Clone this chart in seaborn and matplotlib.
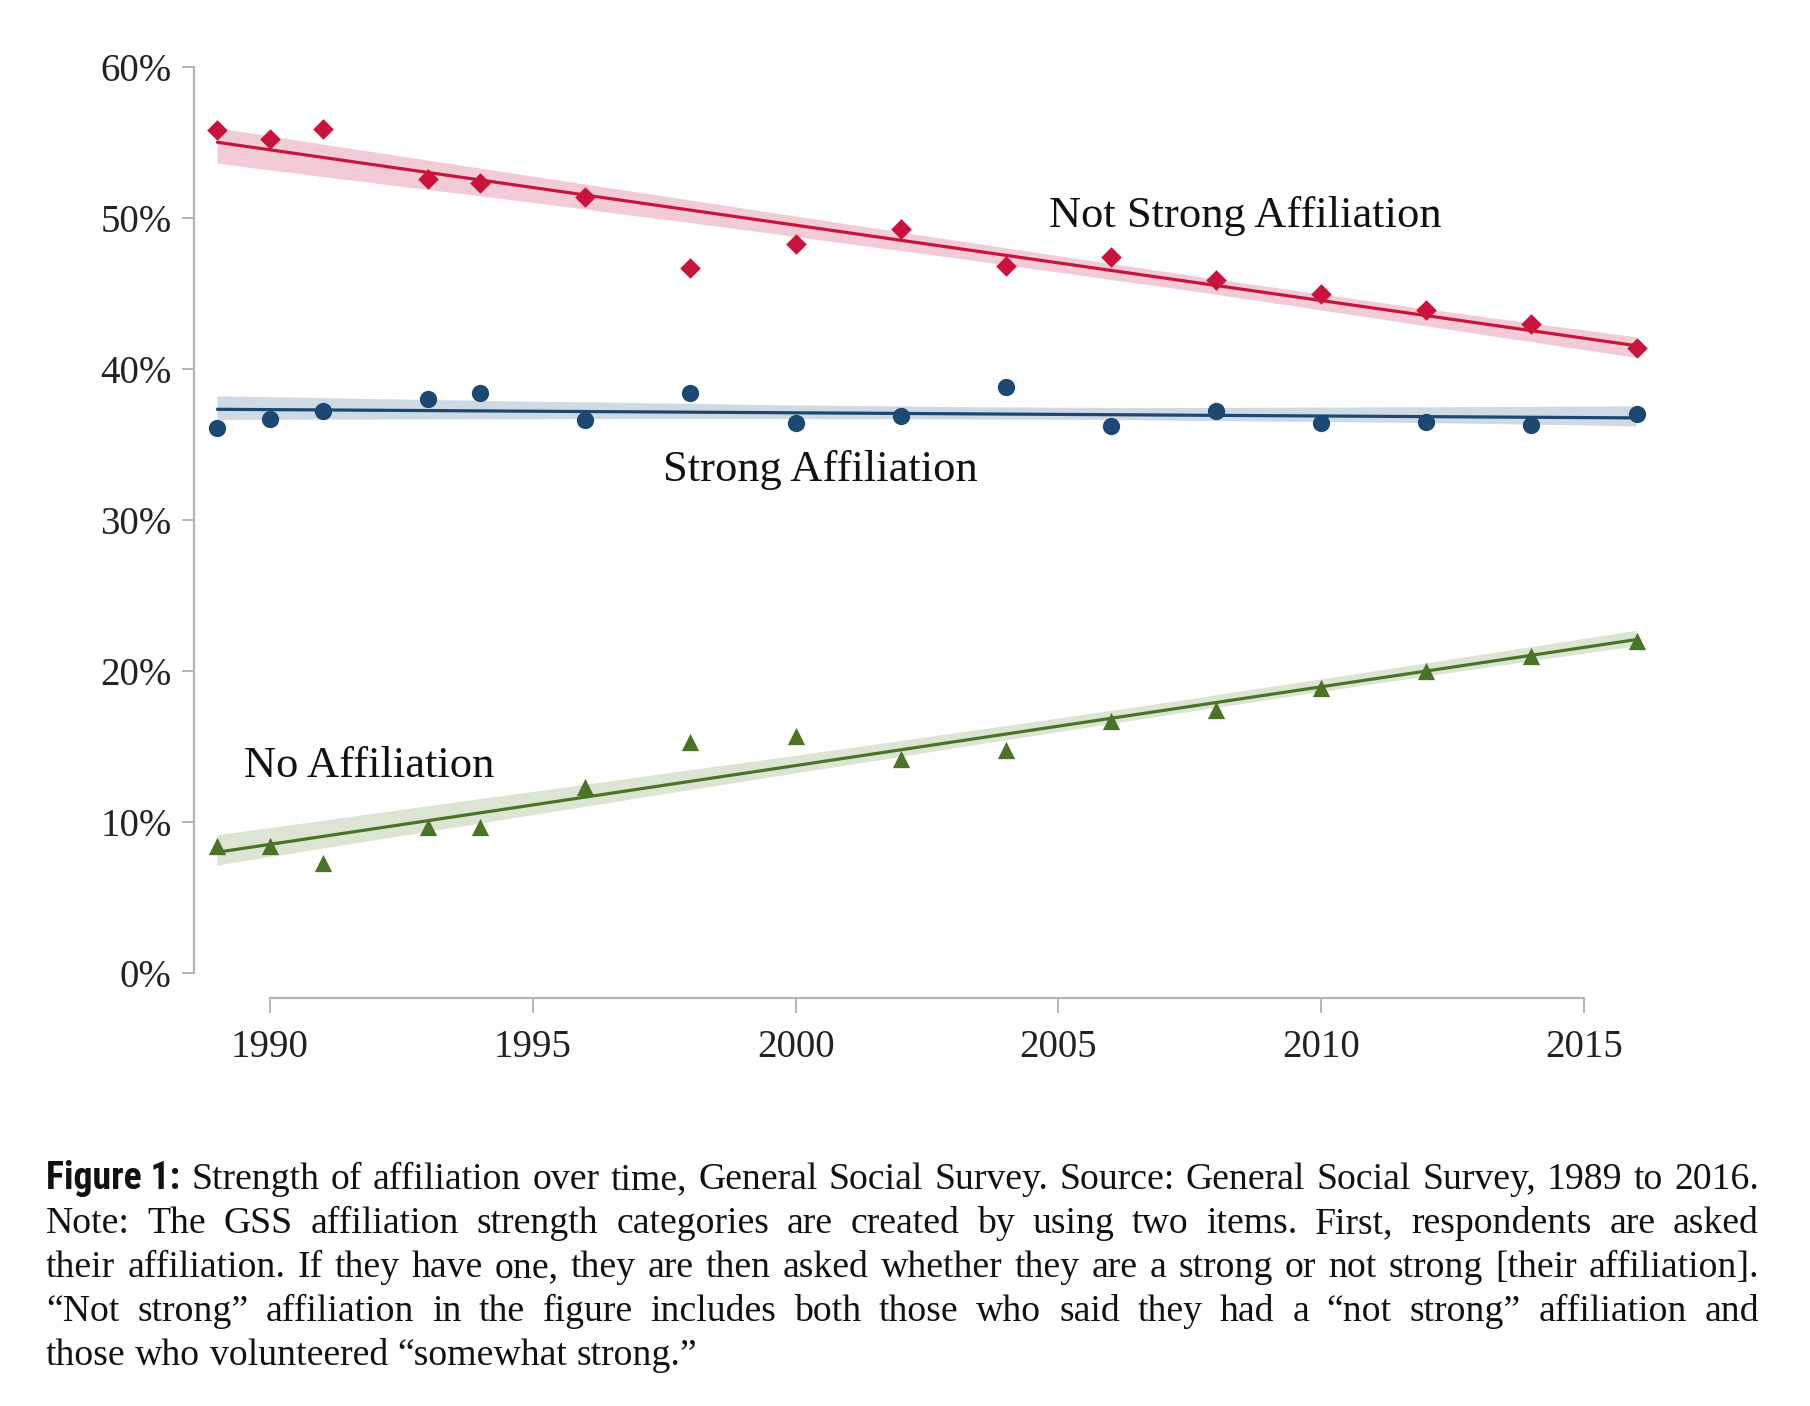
import numpy as np
import pandas as pd
import seaborn as sns
import matplotlib
matplotlib.use("Agg")
import matplotlib.pyplot as plt
from matplotlib import font_manager as fm
from matplotlib.font_manager import FontProperties

# ---------------- data ----------------
years = [1989, 1990, 1991, 1993, 1994, 1996, 1998, 2000, 2002, 2004, 2006, 2008, 2010, 2012, 2014, 2016]
not_strong = [55.8, 55.2, 55.9, 52.6, 52.3, 51.4, 46.7, 48.3, 49.3, 46.8, 47.4, 45.9, 45.0, 43.9, 43.0, 41.4]
strong = [36.1, 36.7, 37.2, 38.0, 38.4, 36.6, 38.4, 36.4, 36.9, 38.8, 36.2, 37.2, 36.4, 36.5, 36.3, 37.0]
no_aff = [8.4, 8.4, 7.3, 9.7, 9.7, 12.3, 15.3, 15.7, 14.2, 14.8, 16.7, 17.4, 18.9, 20.0, 21.0, 22.0]
series_labels = ["Not Strong Affiliation", "Strong Affiliation", "No Affiliation"]
x_ticks = [1990, 1995, 2000, 2005, 2010, 2015]
y_ticks = [0, 10, 20, 30, 40, 50, 60]
caption_lines = [
    "Strength of affiliation over time, General Social Survey. Source: General Social Survey, 1989 to 2016.",
    "Note: The GSS affiliation strength categories are created by using two items. First, respondents are asked",
    "their affiliation. If they have one, they are then asked whether they are a strong or not strong [their affiliation].",
    "\u201cNot strong\u201d affiliation in the figure includes both those who said they had a \u201cnot strong\u201d affiliation and",
    "those who volunteered \u201csomewhat strong.\u201d",
]
caption_label = "Figure 1:"

# ---------------- style ----------------
sns.set_theme(style="white")
serif = "Liberation Serif"
plt.rcParams["font.family"] = [serif, "DejaVu Serif"]
names = {f.name for f in fm.fontManager.ttflist}
if "Liberation Sans Narrow" in names:
    bold_family = "Liberation Sans Narrow"
elif "Roboto Condensed" in names:
    bold_family = "Roboto Condensed"
else:
    bold_family = "Roboto" if "Roboto" in names else "DejaVu Sans"

W, H = 1810, 1406
fig = plt.figure(figsize=(W / 100, H / 100), dpi=100)
fig.patch.set_facecolor("white")

# axes placement (pixels)
left_px, right_px, top_px, bottom_px = 194, 1650, 60, 998
ax = fig.add_axes([left_px / W, 1 - bottom_px / H, (right_px - left_px) / W, (bottom_px - top_px) / H])
ax.set_facecolor("white")

px_per_year = 52.56
px_per_pct = 15.1
x0_px, y0_px = 270, 973  # 1990, 0%
ax.set_xlim(1990 - (x0_px - left_px) / px_per_year, 1990 + (right_px - x0_px) / px_per_year)
ax.set_ylim(-(bottom_px - y0_px) / px_per_pct, 60 + (67 - top_px) / px_per_pct)

specs = [
    (not_strong, "#c8143c", "#f2cbd5", "D", 110),
    (strong, "#1c4872", "#d0dae4", "o", 155),
    (no_aff, "#4b7328", "#dce5d3", "^", 155),
]
for vals, col, band, mk, s in specs:
    n_before = len(ax.collections)
    sns.regplot(x=np.array(years, float), y=np.array(vals, float), ax=ax, ci=95, n_boot=2000, seed=3,
                marker=mk, color=col,
                scatter_kws={"s": s, "alpha": 1, "linewidths": 0, "zorder": 4},
                line_kws={"lw": 2.3, "zorder": 3})
    new = ax.collections[n_before:]
    for c in new:
        if isinstance(c, matplotlib.collections.PolyCollection) and not isinstance(c, matplotlib.collections.PathCollection):
            c.set_facecolor(band)
            c.set_alpha(1)
            c.set_edgecolor("none")
            c.set_zorder(1)

ax.set_xlabel("")
ax.set_ylabel("")

# spines
for sp in ["top", "right"]:
    ax.spines[sp].set_visible(False)
for sp in ["left", "bottom"]:
    ax.spines[sp].set_color("#b4b4b4")
    ax.spines[sp].set_linewidth(1.6)
ax.spines["left"].set_bounds(0, 60)
ax.spines["bottom"].set_bounds(1990, 2015)

ax.set_xticks(x_ticks)
ax.set_xticklabels([str(t) for t in x_ticks])
ax.set_yticks(y_ticks)
ax.set_yticklabels([f"{t}%" for t in y_ticks])
ax.tick_params(axis="both", which="major", direction="out", color="#b4b4b4", width=1.4,
               labelsize=28, labelcolor="#222222", bottom=True, left=True)
ax.tick_params(axis="y", length=9, pad=7)
ax.tick_params(axis="x", length=11, pad=11)

# series labels (text placed in data coords)
ax.text(2004.82, 50.15, series_labels[0], fontsize=32, color="#111111", va="center", ha="left")
ax.text(1997.48, 33.3, series_labels[1], fontsize=32, color="#111111", va="center", ha="left")
ax.text(1989.5, 13.7, series_labels[2], fontsize=32, color="#111111", va="center", ha="left")

# ---------------- caption (justified) ----------------
fig.canvas.draw()
r = fig.canvas.get_renderer()

def width(txt, fp):
    t = fig.text(0, 0, txt, fontproperties=fp)
    w = t.get_window_extent(r).width
    t.remove()
    return w

base_size = 26
fp_reg = FontProperties(family=serif, size=base_size)
fp_bold = FontProperties(family=bold_family, weight="bold", size=base_size)
if bold_family in ("DejaVu Sans",):
    fp_bold.set_stretch("condensed")

x_left, x_right = 46, 1759
target = x_right - x_left
nat = []
for i, line in enumerate(caption_lines):
    if i == 0:
        nat.append(width(caption_label, fp_bold) + width(" " + line, fp_reg))
    else:
        nat.append(width(line, fp_reg))
size = base_size * target / max(nat[:4]) * 0.985
fp_reg.set_size(size)
fp_bold.set_size(size)
space_w = width("a a", fp_reg) - width("aa", fp_reg)

baselines = [1189, 1233, 1277, 1321, 1365]
for i, line in enumerate(caption_lines):
    toks = [(w, fp_reg) for w in line.split(" ")]
    if i == 0:
        toks = [(caption_label, fp_bold)] + toks
    ws = [width(t, f) for t, f in toks]
    if i < 4:
        gap = (target - sum(ws)) / (len(toks) - 1)
    else:
        gap = space_w
    x = x_left
    for (t, f), w in zip(toks, ws):
        fig.text(x / W, 1 - baselines[i] / H, t, fontproperties=f, color="#111111",
                 ha="left", va="baseline")
        x += w + gap

fig.savefig("out.png", dpi=100, facecolor="white")
